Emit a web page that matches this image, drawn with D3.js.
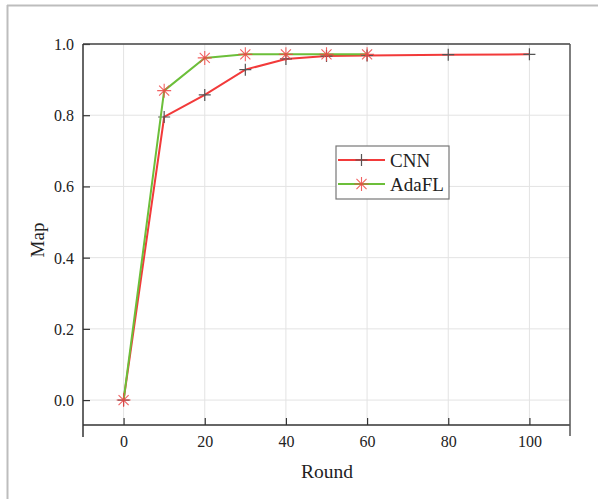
<!DOCTYPE html>
<html><head><meta charset="utf-8">
<script src="https://cdn.jsdelivr.net/npm/d3@7"></script>
<style>html,body{margin:0;padding:0;background:#fff;}svg{display:block;font-family:'Liberation Serif','Times New Roman',serif;}svg text{font-family:'Liberation Serif','Times New Roman',serif !important;}</style>
</head><body>
<svg id="c" width="598" height="499"></svg>
<script>
const cnnRounds = [0, 10, 20, 30, 40, 50, 60, 80, 100];
const cnnValues = [0, 0.795, 0.857, 0.928, 0.958, 0.966, 0.968, 0.970, 0.971];
const adaRounds = [0, 10, 20, 30, 40, 50, 60];
const adaValues = [0, 0.869, 0.961, 0.971, 0.971, 0.971, 0.971];
const xTicks = [0, 20, 40, 60, 80, 100];
const yTicks = [0.0, 0.2, 0.4, 0.6, 0.8, 1.0];
const seriesNames = ["CNN", "AdaFL"];

const svg = d3.select("#c");
const font = "'Liberation Serif','Times New Roman',serif";
const L = 83, R = 570, T = 44, B = 425;
const x = d3.scaleLinear().domain([-10, 110]).range([L, R]);
const y = d3.scaleLinear().domain([-0.07, 1.0]).range([B, T]);

// outer frame
svg.append("line").attr("x1", 7.5).attr("x2", 7.5).attr("y1", 5).attr("y2", 499).attr("stroke", "#bdbdbd").attr("stroke-width", 2);
svg.append("line").attr("x1", 7).attr("x2", 598).attr("y1", 5.5).attr("y2", 5.5).attr("stroke", "#bdbdbd").attr("stroke-width", 2);

// grid
const g = svg.append("g");
g.selectAll(".gx").data(xTicks).enter().append("line")
  .attr("x1", d => x(d)).attr("x2", d => x(d)).attr("y1", T).attr("y2", B)
  .attr("stroke", "#e3e3e3").attr("stroke-width", 1);
g.selectAll(".gy").data(yTicks).enter().append("line")
  .attr("x1", L).attr("x2", R).attr("y1", d => y(d)).attr("y2", d => y(d))
  .attr("stroke", "#e3e3e3").attr("stroke-width", 1);

// axes
const xAxis = d3.axisBottom(x).tickValues(xTicks).tickSizeInner(-7).tickSizeOuter(0).tickFormat(d3.format("d"));
const xa = svg.append("g").attr("transform", `translate(0,${B})`).call(xAxis).attr("font-family", null);
xa.select(".domain").remove();
xa.selectAll(".tick line").attr("stroke", "#333").attr("stroke-width", 1.2);
xa.selectAll(".tick text").attr("y", 22).attr("dy", 0).style("font-family", font).attr("font-size", 16).attr("fill", "#222");

const yAxis = d3.axisLeft(y).tickValues(yTicks).tickSizeInner(-7).tickSizeOuter(0).tickFormat(d3.format(".1f"));
const ya = svg.append("g").attr("transform", `translate(${L},0)`).call(yAxis).attr("font-family", null);
ya.select(".domain").remove();
ya.selectAll(".tick line").attr("stroke", "#333").attr("stroke-width", 1.2);
ya.selectAll(".tick text").attr("x", -9).attr("dy", "0.34em").style("font-family", font).attr("font-size", 16).attr("fill", "#222");

// axis lines / frame
svg.append("line").attr("x1", L).attr("x2", R).attr("y1", B).attr("y2", B).attr("stroke", "#333").attr("stroke-width", 1.5);
svg.append("line").attr("x1", L).attr("x2", R).attr("y1", T).attr("y2", T).attr("stroke", "#444").attr("stroke-width", 1.5);
svg.append("line").attr("x1", L).attr("x2", L).attr("y1", T).attr("y2", 437).attr("stroke", "#333").attr("stroke-width", 1.5);
svg.append("line").attr("x1", R).attr("x2", R).attr("y1", T).attr("y2", 436).attr("stroke", "#555").attr("stroke-width", 1.5);

// titles
svg.append("text").attr("x", 327).attr("y", 478).attr("text-anchor", "middle")
  .style("font-family", font).attr("font-size", 19.5).attr("fill", "#222").text("Round");
svg.append("text").attr("transform", "translate(44,240) rotate(-90)").attr("text-anchor", "middle")
  .style("font-family", font).attr("font-size", 19).attr("fill", "#222").text("Map");

const red = "#f23a3a", green = "#6cbf3a";
const line = d3.line().x(d => x(d[0])).y(d => y(d[1]));
const cnn = cnnRounds.map((r, i) => [r, cnnValues[i]]);
const ada = adaRounds.map((r, i) => [r, adaValues[i]]);

function plus(sel, s) {
  sel.append("path").attr("d", `M${-s},0H${s}M0,${-s}V${s}`).attr("stroke", "#555").attr("stroke-width", 1.2).attr("fill", "none");
}
function star(sel, s) {
  const d = s * 0.72;
  sel.append("path").attr("d", `M${-s},0H${s}M0,${-s}V${s}M${-d},${-d}L${d},${d}M${-d},${d}L${d},${-d}`)
    .attr("stroke", "#f04545").attr("stroke-opacity", 0.85).attr("stroke-width", 1.1).attr("fill", "none");
}

svg.append("path").datum(cnn).attr("d", line).attr("fill", "none").attr("stroke", red).attr("stroke-width", 2);
svg.selectAll(".pc").data(cnn).enter().append("g")
  .attr("transform", d => `translate(${x(d[0])},${y(d[1])})`).each(function () { plus(d3.select(this), 6); });
svg.append("path").datum(ada).attr("d", line).attr("fill", "none").attr("stroke", green).attr("stroke-width", 2);
svg.selectAll(".pa").data(ada).enter().append("g")
  .attr("transform", d => `translate(${x(d[0])},${y(d[1])})`).each(function () { star(d3.select(this), 7); });

// legend
const lg = svg.append("g");
lg.append("rect").attr("x", 336).attr("y", 146).attr("width", 113).attr("height", 53)
  .attr("fill", "#fff").attr("stroke", "#777").attr("stroke-width", 1.2);
const rows = [{ name: seriesNames[0], color: red, y: 160, m: plus }, { name: seriesNames[1], color: green, y: 184, m: star }];
rows.forEach(r => {
  lg.append("line").attr("x1", 338).attr("x2", 385).attr("y1", r.y).attr("y2", r.y).attr("stroke", r.color).attr("stroke-width", 2);
  const mg = lg.append("g").attr("transform", `translate(361.5,${r.y})`);
  r.m(mg, r.m === plus ? 6 : 7);
  lg.append("text").attr("x", 390).attr("y", r.y + 6.5).style("font-family", font).attr("font-size", 19).attr("fill", "#222").text(r.name);
});
</script>
</body></html>
